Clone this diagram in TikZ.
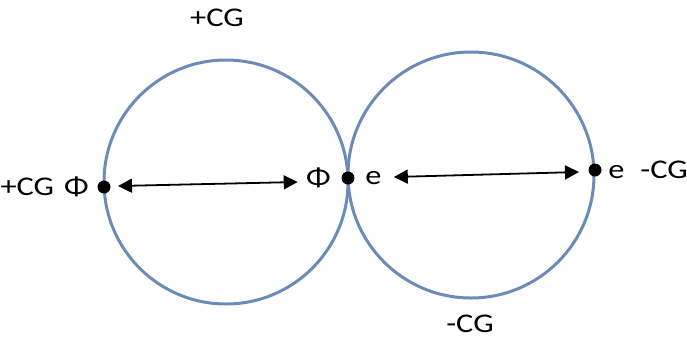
\documentclass[tikz,border=0pt]{standalone}
\usepackage{fontspec}
\setmainfont{Carlito}
\newfontfamily\lbfont[FakeStretch=1.2]{Carlito}
\usetikzlibrary{positioning,arrows.meta,calc}
\definecolor{ringblue}{RGB}{108,140,184}

\begin{document}
\begin{tikzpicture}[x=0.5pt,y=-0.5pt,
  ring/.style={draw=ringblue,line width=1.5pt},
  dot/.style={circle,fill=black,inner sep=0pt,minimum size=6.5pt},
  lb/.style={font=\lbfont\fontsize{13.5}{16}\selectfont,inner sep=1pt},
  dbl/.style={{Triangle[length=7pt,width=7pt]}-{Triangle[length=7pt,width=7pt]},line width=0.9pt}]
\useasboundingbox (0,0) rectangle (687,339);
% the two rings
\draw[ring] (226,182) circle[radius=61pt];
\draw[ring] (471,175) circle[radius=61.5pt];
% points on the rings
\node[dot] (pl) at (104,187) {};
\node[dot] (pm) at (348,178) {};
\node[dot] (pr) at (595,170) {};
% labels
\node[lb] (top) at (217,18) {+CG};
\node[lb] (bot) at (470,324) {-CG};
\node[lb,left=3pt of pl] (lphi) {+CG\hspace{5pt}Φ};
\node[lb,left=4pt of pm] (mphi) {Φ};
\node[lb,right=4pt of pm] (me) {e};
\node[lb,right=2pt of pr] (re) {e\hspace{8pt}-CG};
% arrows
\draw[dbl] ($(pl)+(14,-1)$) -- ($(mphi.west)+(-6,4)$);
\draw[dbl] ($(me.east)+(10,-1)$) -- ($(pr)+(-16,2)$);
\end{tikzpicture}
\end{document}
